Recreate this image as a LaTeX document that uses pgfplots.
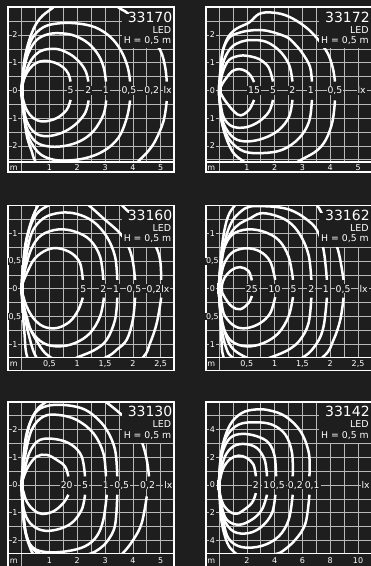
\documentclass[border=0pt]{standalone}
\usepackage{fontspec}
\setmainfont{DejaVu Sans}
\usepackage{pgfplots}
\pgfplotsset{compat=1.18}
\definecolor{bgc}{RGB}{30,30,30}
\definecolor{gridc}{RGB}{185,185,185}
\pgfplotsset{
 panel/.style={scale only axis, width=165.7pt, height=164.9pt, anchor=north west,
   grid=major, grid style={gridc, line width=0.6pt},
   axis line style={draw=none}, major tick length=0pt,
   xticklabels={}, yticklabels={}, clip mode=individual},
 cont/.style={white, line width=2.5pt, smooth, tension=0.6, mark=none},
 lum/.style={white, line width=4pt, mark=none, line cap=butt},
}
\tikzset{
 cl/.style={fill=bgc, text=white, inner sep=1pt, text height=6.8pt, text depth=0pt, font=\fontsize{9.3}{9.3}\selectfont},
 tl/.style={fill=bgc, text=white, inner sep=0.6pt, text height=5.8pt, text depth=0pt, font=\fontsize{8}{8}\selectfont},
 ttl/.style={text=white, anchor=base east, inner sep=0pt},
}
\newcommand\titles[1]{%
 \path (rel axis cs:1,1) ++(-1.5pt,-15pt) node[ttl, font=\fontsize{14}{14}\selectfont]{#1};
 \path (rel axis cs:1,1) ++(-2.5pt,-25.8pt) node[ttl, font=\fontsize{9.5}{9.5}\selectfont]{LED};
 \path (rel axis cs:1,1) ++(-2.5pt,-36.3pt) node[ttl, font=\fontsize{9.3}{9.3}\selectfont]{H = 0,5 m};
}
\begin{document}
\begin{tikzpicture}
\useasboundingbox (0,0) rectangle (371pt,566pt);
\fill[bgc] (0,0) rectangle (371pt,566pt);

% ---------------- Panel 1: 33170
\begin{axis}[panel, at={(8.3pt,558.7pt)}, xmin=-0.48, xmax=5.48, ymin=-2.95, ymax=3,
  xtick={0,0.5,1,1.5,2,2.5,3,3.5,4,4.5,5}, ytick={-2.5,-2,-1.5,-1,-0.5,0,0.5,1,1.5,2,2.5}]
\addplot[cont] coordinates {(1.76,0.32) (1.68,0.6) (1.5,0.83) (1.2,1.0) (0.84,1.07) (0.54,1.0) (0.3,0.8) (0.12,0.5) (0.03,0.2) (0,0) (0.04,-0.28) (0.18,-0.7) (0.42,-1.0) (0.78,-1.12) (1.26,-1.0) (1.62,-0.7) (1.76,-0.34)};
\addplot[cont] coordinates {(2.4,0.32) (2.31,0.68) (2.12,0.98) (1.8,1.27) (1.38,1.47) (1.0,1.5) (0.64,1.4) (0.36,1.12) (0.16,0.7) (0.04,0.26) (0,0) (0.05,-0.45) (0.18,-1.1) (0.48,-1.53) (0.9,-1.65) (1.44,-1.53) (1.92,-1.24) (2.28,-0.82) (2.41,-0.36)};
\addplot[cont] coordinates {(3.03,0.32) (2.96,0.8) (2.76,1.28) (2.4,1.7) (1.92,1.97) (1.44,2.06) (0.96,2.03) (0.54,1.82) (0.24,1.34) (0.08,0.74) (0.01,0.2) (0,0) (0.02,-0.3) (0.08,-0.8) (0.18,-1.35) (0.48,-1.83) (0.9,-2.01) (1.5,-2.01) (2.1,-1.83) (2.58,-1.47) (2.94,-0.88) (3.04,-0.36)};
\addplot[cont] coordinates {(3.9,0.32) (3.81,0.86) (3.56,1.46) (3.18,1.94) (2.64,2.28) (1.98,2.42) (1.32,2.42) (0.78,2.28) (0.38,1.88) (0.16,1.22) (0.04,0.5) (0,0) (0.04,-0.5) (0.18,-1.47) (0.42,-2.01) (0.78,-2.37) (1.38,-2.53) (2.22,-2.46) (2.94,-2.19) (3.48,-1.71) (3.78,-1.0) (3.9,-0.36)};
\addplot[cont] coordinates {(5.22,0.32) (5.16,0.86) (4.98,1.46) (4.5,2.12) (3.84,2.76) (3.6,2.92) (3.1,3.2) (2.3,3.4) (1.5,3.25) (1.08,2.95) (0.66,2.6) (0.36,2.06) (0.12,1.22) (0.02,0.3) (0,0) (0.02,-0.4) (0.18,-1.6) (0.36,-2.19) (0.48,-2.53) (0.8,-3.0) (1.8,-3.4) (3.2,-3.3) (3.9,-2.9) (4.2,-2.55) (4.5,-2.25) (4.8,-1.83) (5.1,-1.12) (5.22,-0.38)};
\addplot[lum] coordinates {(0.01,-0.19) (0.01,0.19)};
\fill[bgc] (axis cs:3.85,2.75) rectangle (axis cs:5.48,3);
\fill[bgc] (axis cs:3.6,1.52) rectangle (axis cs:5.48,2.75);
\titles{33170}
\fill[bgc] (axis cs:-0.48,-2.95) rectangle (axis cs:5.48,-2.58);
\draw[gridc, line width=0.6pt] (axis cs:0,-2.95) -- (axis cs:0,-2.58);
\draw[white, line width=1.3pt] (axis cs:-0.48,-2.58) -- (axis cs:5.48,-2.58);
\draw[white, line width=1.7pt] (rel axis cs:0,0) rectangle (rel axis cs:1,1);
\node[cl] at (axis cs:1.76,0) {5};
\node[cl] at (axis cs:2.4,0) {2};
\node[cl] at (axis cs:3.03,0) {1};
\node[cl] at (axis cs:3.86,0) {0,5};
\node[cl] at (axis cs:4.68,0) {0,2};
\node[cl] at (axis cs:5.25,0) {lx};
\node[tl] at (axis cs:-0.24,2) {2};
\node[tl] at (axis cs:-0.24,1) {1};
\node[tl] at (axis cs:-0.24,0) {0};
\node[tl] at (axis cs:-0.24,-1) {1};
\node[tl] at (axis cs:-0.24,-2) {2};
\node[tl] at (axis cs:-0.28,-2.77) {m};
\node[tl] at (axis cs:1,-2.77) {1};
\node[tl] at (axis cs:2,-2.77) {2};
\node[tl] at (axis cs:3,-2.77) {3};
\node[tl] at (axis cs:4,-2.77) {4};
\node[tl] at (axis cs:5,-2.77) {5};
\end{axis}

% ---------------- Panel 2: 33172
\begin{axis}[panel, at={(205.7pt,558.7pt)}, xmin=-0.48, xmax=5.48, ymin=-2.95, ymax=3,
  xtick={0,0.5,1,1.5,2,2.5,3,3.5,4,4.5,5}, ytick={-2.5,-2,-1.5,-1,-0.5,0,0.5,1,1.5,2,2.5}]
\addplot[cont] coordinates {(1.26,0.3) (1.14,0.53) (0.96,0.7) (0.72,0.77) (0.48,0.7) (0.3,0.5) (0.12,0.24) (0.03,0.02) (0.06,-0.1) (0.24,-0.4) (0.54,-0.76) (0.78,-0.9) (1.08,-0.7) (1.26,-0.34)};
\addplot[cont] coordinates {(1.94,0.32) (1.8,0.8) (1.56,1.06) (1.32,1.18) (1.0,1.25) (0.72,1.25) (0.36,1.1) (0.14,0.68) (0.05,0.26) (0,0) (0.06,-0.52) (0.18,-1.0) (0.48,-1.3) (0.96,-1.33) (1.44,-1.12) (1.8,-0.76) (1.94,-0.34)};
\addplot[cont] coordinates {(2.64,0.32) (2.56,0.8) (2.4,1.15) (2.1,1.5) (1.68,1.76) (1.2,1.82) (0.8,1.76) (0.44,1.55) (0.18,1.1) (0.06,0.5) (0,0) (0.06,-0.64) (0.18,-1.24) (0.54,-1.72) (1.02,-1.84) (1.62,-1.72) (2.16,-1.42) (2.52,-0.94) (2.64,-0.34)};
\addplot[cont] coordinates {(3.34,0.32) (3.27,0.86) (3.0,1.34) (2.7,1.7) (2.4,1.94) (1.68,2.16) (1.1,2.16) (0.66,2.06) (0.38,1.92) (0.14,1.46) (0.05,0.74) (0,0) (0.05,-0.64) (0.12,-1.24) (0.42,-1.84) (0.9,-2.2) (1.56,-2.26) (2.28,-2.14) (2.88,-1.72) (3.24,-1.12) (3.34,-0.34)};
\addplot[cont] coordinates {(4.17,0.32) (4.08,0.86) (3.84,1.46) (3.24,2.18) (2.52,2.66) (1.92,2.81) (1.44,2.76) (1.08,2.45) (0.6,2.21) (0.3,1.88) (0.12,1.34) (0.05,0.62) (0,0) (0.06,-0.76) (0.18,-1.48) (0.48,-2.2) (0.84,-2.53) (1.3,-2.8) (1.9,-2.95) (2.5,-2.85) (2.82,-2.58) (3.48,-2.2) (3.84,-1.78) (4.08,-1.12) (4.17,-0.36)};
\addplot[lum] coordinates {(0.04,-0.19) (0.04,0.19)};
\fill[bgc] (axis cs:3.85,2.75) rectangle (axis cs:5.48,3);
\fill[bgc] (axis cs:3.6,1.52) rectangle (axis cs:5.48,2.75);
\titles{33172}
\fill[bgc] (axis cs:-0.48,-2.95) rectangle (axis cs:5.48,-2.58);
\draw[gridc, line width=0.6pt] (axis cs:0,-2.95) -- (axis cs:0,-2.58);
\draw[white, line width=1.3pt] (axis cs:-0.48,-2.58) -- (axis cs:5.48,-2.58);
\draw[white, line width=1.7pt] (rel axis cs:0,0) rectangle (rel axis cs:1,1);
\node[cl] at (axis cs:1.26,0) {15};
\node[cl] at (axis cs:1.94,0) {5};
\node[cl] at (axis cs:2.64,0) {2};
\node[cl] at (axis cs:3.3,0) {1};
\node[cl] at (axis cs:4.17,0) {0,5};
\node[cl] at (axis cs:5.13,0) {lx};
\node[tl] at (axis cs:-0.24,2) {2};
\node[tl] at (axis cs:-0.24,1) {1};
\node[tl] at (axis cs:-0.24,0) {0};
\node[tl] at (axis cs:-0.24,-1) {1};
\node[tl] at (axis cs:-0.24,-2) {2};
\node[tl] at (axis cs:-0.28,-2.77) {m};
\node[tl] at (axis cs:1,-2.77) {1};
\node[tl] at (axis cs:2,-2.77) {2};
\node[tl] at (axis cs:3,-2.77) {3};
\node[tl] at (axis cs:4,-2.77) {4};
\node[tl] at (axis cs:5,-2.77) {5};
\end{axis}

% ---------------- Panel 3: 33160
\begin{axis}[panel, at={(8.3pt,360.4pt)}, xmin=-0.24, xmax=2.74, ymin=-1.475, ymax=1.5,
  xtick={0,0.25,0.5,0.75,1,1.25,1.5,1.75,2,2.25,2.5}, ytick={-1.25,-1,-0.75,-0.5,-0.25,0,0.25,0.5,0.75,1,1.25}]
\addplot[cont] coordinates {(1.1,0.16) (1.05,0.46) (0.9,0.64) (0.66,0.73) (0.45,0.7) (0.24,0.55) (0.12,0.34) (0.03,0.13) (0,0) (0.03,-0.14) (0.09,-0.32) (0.21,-0.53) (0.39,-0.68) (0.63,-0.71) (0.87,-0.59) (1.02,-0.38) (1.1,-0.16)};
\addplot[cont] coordinates {(1.47,0.16) (1.41,0.58) (1.23,0.88) (0.96,1.03) (0.66,1.07) (0.36,0.97) (0.18,0.73) (0.06,0.34) (0,0) (0.03,-0.26) (0.09,-0.5) (0.18,-0.77) (0.39,-0.98) (0.66,-1.04) (0.96,-0.98) (1.23,-0.8) (1.41,-0.5) (1.48,-0.16)};
\addplot[cont] coordinates {(1.72,0.16) (1.68,0.58) (1.53,0.94) (1.29,1.21) (0.99,1.35) (0.69,1.37) (0.39,1.27) (0.18,1.0) (0.06,0.46) (0,0) (0.03,-0.2) (0.08,-0.56) (0.33,-1.04) (0.51,-1.23) (0.75,-1.33) (1.02,-1.23) (1.32,-1.1) (1.53,-0.92) (1.68,-0.56) (1.72,-0.16)};
\addplot[cont] coordinates {(2.04,0.16) (2.0,0.49) (1.92,0.76) (1.77,1.0) (1.47,1.27) (1.2,1.51) (1.0,1.64) (0.75,1.66) (0.51,1.52) (0.27,1.35) (0.12,1.0) (0.03,0.45) (0,0) (0.02,-0.2) (0.04,-0.38) (0.12,-0.8) (0.26,-1.23) (0.5,-1.45) (1.0,-1.45) (1.53,-1.23) (1.71,-1.1) (1.89,-0.92) (2.0,-0.56) (2.04,-0.16)};
\addplot[cont] coordinates {(2.51,0.16) (2.49,0.52) (2.4,0.79) (2.19,1.12) (1.89,1.42) (1.5,1.75) (0.9,1.9) (0.45,1.7) (0.3,1.51) (0.18,1.24) (0.07,0.82) (0.02,0.34) (0,0) (0.02,-0.4) (0.05,-0.8) (0.1,-1.23) (0.3,-1.6) (1.0,-1.7) (1.8,-1.55) (2.19,-1.23) (2.31,-0.98) (2.43,-0.62) (2.51,-0.16)};
\addplot[lum] coordinates {(0.005,-0.095) (0.005,0.095)};
\fill[bgc] (axis cs:1.925,1.375) rectangle (axis cs:2.74,1.5);
\fill[bgc] (axis cs:1.8,0.76) rectangle (axis cs:2.74,1.375);
\titles{33160}
\fill[bgc] (axis cs:-0.24,-1.475) rectangle (axis cs:2.74,-1.24);
\draw[gridc, line width=0.6pt] (axis cs:0,-1.475) -- (axis cs:0,-1.24);
\draw[white, line width=1.3pt] (axis cs:-0.24,-1.24) -- (axis cs:2.74,-1.24);
\draw[white, line width=1.7pt] (rel axis cs:0,0) rectangle (rel axis cs:1,1);
\node[cl] at (axis cs:1.11,0) {5};
\node[cl] at (axis cs:1.47,0) {2};
\node[cl] at (axis cs:1.70,0) {1};
\node[cl] at (axis cs:2.02,0) {0,5};
\node[cl] at (axis cs:2.38,0) {0,2};
\node[cl] at (axis cs:2.585,0) {lx};
\node[tl] at (axis cs:-0.12,1) {1};
\node[tl] at (axis cs:-0.12,0.5) {0,5};
\node[tl] at (axis cs:-0.12,0) {0};
\node[tl] at (axis cs:-0.12,-0.5) {0,5};
\node[tl] at (axis cs:-0.12,-1) {1};
\node[tl] at (axis cs:-0.14,-1.357) {m};
\node[tl] at (axis cs:0.5,-1.357) {0,5};
\node[tl] at (axis cs:1,-1.357) {1};
\node[tl] at (axis cs:1.5,-1.357) {1,5};
\node[tl] at (axis cs:2,-1.357) {2};
\node[tl] at (axis cs:2.5,-1.357) {2,5};
\end{axis}

% ---------------- Panel 4: 33162
\begin{axis}[panel, at={(205.7pt,360.4pt)}, xmin=-0.24, xmax=2.74, ymin=-1.475, ymax=1.5,
  xtick={0,0.25,0.5,0.75,1,1.25,1.5,1.75,2,2.25,2.5}, ytick={-1.25,-1,-0.75,-0.5,-0.25,0,0.25,0.5,0.75,1,1.25}]
\addplot[cont] coordinates {(0.59,0.15) (0.53,0.32) (0.38,0.39) (0.23,0.34) (0.1,0.2) (0.05,0.05) (0.06,-0.08) (0.11,-0.17) (0.23,-0.32) (0.38,-0.37) (0.53,-0.26) (0.59,-0.13)};
\addplot[cont] coordinates {(1.01,0.16) (0.92,0.49) (0.74,0.67) (0.5,0.73) (0.26,0.67) (0.11,0.49) (0.04,0.25) (0.02,0) (0.05,-0.29) (0.11,-0.5) (0.29,-0.68) (0.5,-0.71) (0.74,-0.62) (0.92,-0.44) (1.01,-0.15)};
\addplot[cont] coordinates {(1.33,0.16) (1.25,0.58) (1.07,0.88) (0.8,1.03) (0.5,1.07) (0.23,0.97) (0.08,0.7) (0.02,0.34) (0,0) (0.02,-0.38) (0.08,-0.71) (0.23,-0.95) (0.5,-1.04) (0.8,-0.98) (1.07,-0.8) (1.25,-0.5) (1.33,-0.15)};
\addplot[cont] coordinates {(1.66,0.16) (1.61,0.61) (1.46,0.97) (1.25,1.21) (0.98,1.33) (0.74,1.36) (0.56,1.27) (0.38,1.18) (0.23,1.03) (0.1,0.76) (0.03,0.37) (0,0) (0.02,-0.32) (0.08,-0.7) (0.22,-1.05) (0.47,-1.23) (0.7,-1.3) (0.95,-1.23) (1.25,-1.1) (1.46,-0.92) (1.61,-0.62) (1.66,-0.16)};
\addplot[cont] coordinates {(1.94,0.16) (1.88,0.7) (1.76,1.06) (1.55,1.27) (1.31,1.41) (1.07,1.47) (0.77,1.49) (0.55,1.48) (0.4,1.4) (0.23,1.21) (0.11,0.88) (0.04,0.46) (0,0) (0.02,-0.35) (0.06,-0.8) (0.14,-1.1) (0.23,-1.23) (0.5,-1.42) (1.0,-1.45) (1.52,-1.23) (1.76,-0.98) (1.88,-0.68) (1.94,-0.16)};
\addplot[cont] coordinates {(2.24,0.16) (2.18,0.52) (2.12,0.76) (2.0,1.05) (1.88,1.3) (1.8,1.45) (1.6,1.65) (1.1,1.75) (0.5,1.7) (0.3,1.52) (0.16,1.3) (0.07,0.9) (0.02,0.4) (0,0) (0.02,-0.4) (0.04,-0.85) (0.08,-1.23) (0.3,-1.6) (1.2,-1.65) (1.87,-1.23) (2.06,-0.92) (2.18,-0.56) (2.24,-0.16)};
\addplot[lum] coordinates {(0.005,-0.095) (0.005,0.095)};
\fill[bgc] (axis cs:1.925,1.375) rectangle (axis cs:2.74,1.5);
\fill[bgc] (axis cs:1.8,0.76) rectangle (axis cs:2.74,1.375);
\titles{33162}
\fill[bgc] (axis cs:-0.24,-1.475) rectangle (axis cs:2.74,-1.24);
\draw[gridc, line width=0.6pt] (axis cs:0,-1.475) -- (axis cs:0,-1.24);
\draw[white, line width=1.3pt] (axis cs:-0.24,-1.24) -- (axis cs:2.74,-1.24);
\draw[white, line width=1.7pt] (rel axis cs:0,0) rectangle (rel axis cs:1,1);
\node[cl] at (axis cs:0.59,0) {25};
\node[cl] at (axis cs:1.0,0) {10};
\node[cl] at (axis cs:1.34,0) {5};
\node[cl] at (axis cs:1.66,0) {2};
\node[cl] at (axis cs:1.92,0) {1};
\node[cl] at (axis cs:2.23,0) {0,5};
\node[cl] at (axis cs:2.6,0) {lx};
\node[tl] at (axis cs:-0.12,1) {1};
\node[tl] at (axis cs:-0.12,0.5) {0,5};
\node[tl] at (axis cs:-0.12,0) {0};
\node[tl] at (axis cs:-0.12,-0.5) {0,5};
\node[tl] at (axis cs:-0.12,-1) {1};
\node[tl] at (axis cs:-0.14,-1.357) {m};
\node[tl] at (axis cs:0.5,-1.357) {0,5};
\node[tl] at (axis cs:1,-1.357) {1};
\node[tl] at (axis cs:1.5,-1.357) {1,5};
\node[tl] at (axis cs:2,-1.357) {2};
\node[tl] at (axis cs:2.5,-1.357) {2,5};
\end{axis}

% ---------------- Panel 5: 33130
\begin{axis}[panel, at={(8.3pt,164.1pt)}, xmin=-0.48, xmax=5.48, ymin=-2.95, ymax=3,
  xtick={0,0.5,1,1.5,2,2.5,3,3.5,4,4.5,5}, ytick={-2.5,-2,-1.5,-1,-0.5,0,0.5,1,1.5,2,2.5}]
\addplot[cont] coordinates {(1.68,0.31) (1.56,0.67) (1.26,0.91) (0.9,1.09) (0.54,1.03) (0.24,0.67) (0.06,0.25) (0,0) (0.06,-0.23) (0.18,-0.59) (0.42,-0.89) (0.72,-1.04) (1.14,-0.95) (1.5,-0.65) (1.68,-0.35)};
\addplot[cont] coordinates {(2.28,0.31) (2.16,1.03) (1.8,1.45) (1.26,1.65) (0.66,1.63) (0.3,1.21) (0.08,0.43) (0,0) (0.02,-0.3) (0.08,-0.89) (0.3,-1.37) (0.72,-1.63) (1.26,-1.61) (1.8,-1.37) (2.16,-0.89) (2.28,-0.35)};
\addplot[cont] coordinates {(3.03,0.31) (2.94,1.15) (2.58,1.87) (1.98,2.35) (1.32,2.53) (0.78,2.47) (0.36,1.99) (0.12,1.03) (0.02,0.3) (0,0) (0.02,-0.35) (0.06,-1.0) (0.18,-1.85) (0.42,-2.27) (0.9,-2.42) (1.62,-2.39) (2.28,-2.21) (2.7,-1.85) (2.94,-1.25) (3.06,-0.35)};
\addplot[cont] coordinates {(3.44,0.31) (3.36,1.27) (3.06,1.99) (2.64,2.47) (2.16,2.77) (1.5,2.89) (0.9,2.85) (0.48,2.59) (0.18,1.87) (0.06,0.91) (0,0) (0.04,-0.8) (0.12,-1.6) (0.3,-2.15) (0.6,-2.45) (1.2,-2.62) (1.9,-2.62) (2.46,-2.48) (2.8,-2.3) (3.1,-2.0) (3.36,-1.45) (3.44,-0.35)};
\addplot[cont] coordinates {(4.58,0.31) (4.5,0.91) (4.32,1.57) (4.0,2.2) (3.54,2.59) (3.06,2.97) (2.5,3.3) (1.5,3.4) (0.84,2.97) (0.56,2.73) (0.3,2.23) (0.12,1.39) (0.03,0.43) (0,0) (0.02,-0.5) (0.1,-1.5) (0.28,-2.2) (0.55,-2.6) (1.5,-3.1) (3.0,-3.0) (3.6,-2.5) (4.02,-1.97) (4.32,-1.37) (4.5,-0.41)};
\addplot[lum] coordinates {(0.01,-0.19) (0.01,0.19)};
\fill[bgc] (axis cs:3.85,2.75) rectangle (axis cs:5.48,3);
\fill[bgc] (axis cs:3.6,1.52) rectangle (axis cs:5.48,2.75);
\titles{33130}
\fill[bgc] (axis cs:-0.48,-2.95) rectangle (axis cs:5.48,-2.48);
\draw[gridc, line width=0.6pt] (axis cs:0,-2.95) -- (axis cs:0,-2.48);
\draw[white, line width=1.3pt] (axis cs:-0.48,-2.48) -- (axis cs:5.48,-2.48);
\draw[white, line width=1.7pt] (rel axis cs:0,0) rectangle (rel axis cs:1,1);
\node[cl] at (axis cs:1.62,0) {20};
\node[cl] at (axis cs:2.28,0) {5};
\node[cl] at (axis cs:3.03,0) {1};
\node[cl] at (axis cs:3.6,0) {0,5};
\node[cl] at (axis cs:4.53,0) {0,2};
\node[cl] at (axis cs:5.28,0) {lx};
\node[tl] at (axis cs:-0.24,2) {2};
\node[tl] at (axis cs:-0.24,1) {1};
\node[tl] at (axis cs:-0.24,0) {0};
\node[tl] at (axis cs:-0.24,-1) {1};
\node[tl] at (axis cs:-0.24,-2) {2};
\node[tl] at (axis cs:-0.28,-2.715) {m};
\node[tl] at (axis cs:1,-2.715) {1};
\node[tl] at (axis cs:2,-2.715) {2};
\node[tl] at (axis cs:3,-2.715) {3};
\node[tl] at (axis cs:4,-2.715) {4};
\node[tl] at (axis cs:5,-2.715) {5};
\end{axis}

% ---------------- Panel 6: 33142
\begin{axis}[panel, at={(205.7pt,164.1pt)}, xmin=-0.96, xmax=10.96, ymin=-5.9, ymax=6,
  xtick={0,1,...,10}, ytick={-5,-4,...,5}]
\addplot[cont] coordinates {(2.65,0.63) (2.48,1.47) (2.0,1.95) (1.4,2.12) (0.8,1.88) (0.31,1.23) (0.07,0.39) (0,0) (0.07,-0.7) (0.31,-1.42) (0.8,-1.95) (1.25,-2.07) (1.64,-1.9) (2.36,-1.3) (2.65,-0.58)};
\addplot[cont] coordinates {(3.45,0.63) (3.28,1.83) (2.72,2.67) (1.88,2.96) (1.04,2.8) (0.43,2.07) (0.12,0.87) (0,0) (0.08,-0.8) (0.19,-1.54) (0.55,-2.5) (1.4,-2.87) (2.36,-2.5) (3.08,-1.78) (3.45,-0.7)};
\addplot[cont] coordinates {(4.1,0.63) (4.0,2.07) (3.57,3.04) (2.72,3.52) (1.64,3.69) (0.8,3.4) (0.27,2.43) (0.07,1.11) (0,0) (0.08,-1.0) (0.31,-2.39) (1.04,-3.35) (2.12,-3.47) (3.08,-2.99) (3.81,-2.02) (4.05,-0.7)};
\addplot[cont] coordinates {(5.3,0.63) (5.25,2.31) (4.77,3.64) (3.81,4.36) (2.6,4.53) (1.4,4.36) (0.55,3.52) (0.14,2.07) (0,0) (0.1,-1.2) (0.24,-2.27) (0.67,-3.83) (1.64,-4.48) (3.08,-4.39) (4.29,-3.71) (5.01,-2.5) (5.3,-0.7)};
\addplot[cont] coordinates {(6.5,0.63) (6.46,2.31) (5.86,3.88) (4.77,4.96) (3.57,5.4) (2.6,5.45) (1.64,5.2) (0.8,4.36) (0.24,2.8) (0.05,1.11) (0,0) (0.05,-1.1) (0.2,-2.75) (0.6,-4.2) (1.1,-4.85) (1.6,-5.15) (2.6,-5.4) (3.5,-5.25) (4.0,-5.0) (4.53,-4.8) (5.49,-3.95) (6.22,-2.75) (6.5,-0.7)};
\addplot[lum] coordinates {(0.02,-0.38) (0.02,0.38)};
\fill[bgc] (axis cs:7.7,5.5) rectangle (axis cs:10.96,6);
\fill[bgc] (axis cs:7.2,3.04) rectangle (axis cs:10.96,5.5);
\titles{33142}
\fill[bgc] (axis cs:-0.96,-5.9) rectangle (axis cs:10.96,-4.96);
\draw[gridc, line width=0.6pt] (axis cs:0,-5.9) -- (axis cs:0,-4.96);
\draw[white, line width=1.3pt] (axis cs:-0.96,-4.96) -- (axis cs:10.96,-4.96);
\draw[white, line width=1.7pt] (rel axis cs:0,0) rectangle (rel axis cs:1,1);
\node[cl] at (axis cs:2.65,0) {2};
\node[cl] at (axis cs:3.4,0) {1};
\node[cl] at (axis cs:4.19,0) {0,5};
\node[cl] at (axis cs:5.49,0) {0,2};
\node[cl] at (axis cs:6.7,0) {0,1};
\node[cl] at (axis cs:10.55,0) {lx};
\node[tl] at (axis cs:-0.48,4) {4};
\node[tl] at (axis cs:-0.48,2) {2};
\node[tl] at (axis cs:-0.48,0) {0};
\node[tl] at (axis cs:-0.48,-2) {2};
\node[tl] at (axis cs:-0.48,-4) {4};
\node[tl] at (axis cs:-0.56,-5.43) {m};
\node[tl] at (axis cs:2,-5.43) {2};
\node[tl] at (axis cs:4,-5.43) {4};
\node[tl] at (axis cs:6,-5.43) {6};
\node[tl] at (axis cs:8,-5.43) {8};
\node[tl] at (axis cs:10,-5.43) {10};
\end{axis}
\end{tikzpicture}
\end{document}
